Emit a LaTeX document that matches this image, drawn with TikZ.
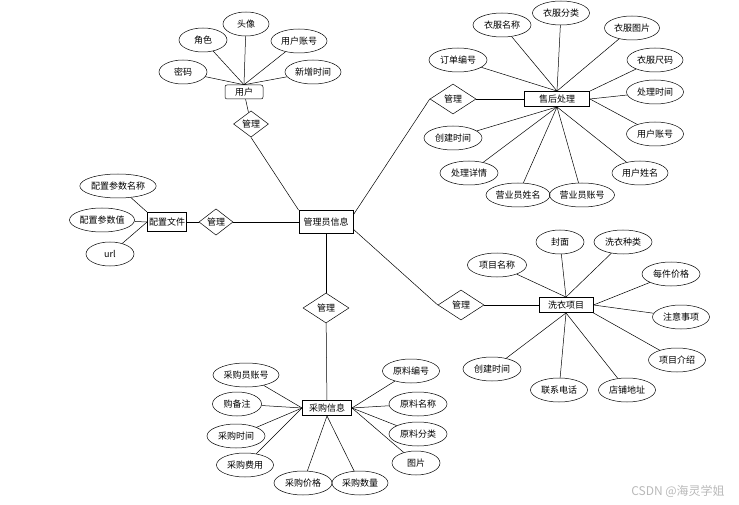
\documentclass[tikz,border=0pt]{standalone}
\usepackage{fontspec}
\newfontfamily\cjk{Noto Sans CJK SC}
\usetikzlibrary{shapes.geometric}

\begin{document}
\begin{tikzpicture}[
    x=1pt, y=-1pt,
    font=\cjk\fontsize{9}{10}\selectfont,
    attr/.style={draw, ellipse, line width=0.5pt, inner sep=0pt, minimum height=24pt},
    entity/.style={draw, line width=0.9pt, inner sep=0pt, minimum height=15pt},
    rel/.style={draw, diamond, line width=0.5pt, inner sep=0pt, minimum width=46pt, minimum height=30pt},
    link/.style={black, line width=0.5pt},
]
    \useasboundingbox (0,0) rectangle (739,505);

    % entities
    \node[entity, minimum width=54pt, minimum height=23pt] (admin) at (326,222) {管理员信息};
    \node[entity, rounded corners=2pt, line width=0.5pt, minimum width=38pt, minimum height=14pt] (user) at (244,92) {用户};
    \node[entity, minimum width=39pt, minimum height=19pt] (cfg) at (167,222) {配置文件};
    \node[entity, minimum width=65pt] (after) at (557,99) {售后处理};
    \node[entity, minimum width=54pt] (wash) at (566,305) {洗衣项目};
    \node[entity, minimum width=49pt] (buy) at (327,408) {采购信息};

    % relations
    \node[rel, minimum width=35pt, minimum height=22pt] (r1) at (251,124) {管理};
    \node[rel, minimum width=34pt, minimum height=21pt] (r2) at (216,222) {管理};
    \node[rel] (r3) at (453,99) {管理};
    \node[rel] (r4) at (461,305) {管理};
    \node[rel] (r5) at (326,308) {管理};

    \draw[link] (user) -- (r1);
    \draw[link] (r1.south) -- (admin.north west);
    \draw[link] (cfg) -- (r2);
    \draw[link] (r2) -- (admin);
    \draw[link] (admin.15) -- (r3.west);
    \draw[link] (r3) -- (after);
    \draw[link] (admin.-15) -- (r4.west);
    \draw[link] (r4) -- (wash);
    \draw[link] (admin) -- (r5);
    \draw[link] (r5) -- (buy);

    % attributes: name/text/x/y/width/anchor
    \foreach \nm/\lbl/\x/\y/\w/\anc in {%
        u1/头像/246/24/46/north,%
        u2/角色/203/40/48/north,%
        u3/用户账号/299/41/56/north,%
        u4/密码/183/72/48/north,%
        u5/新增时间/313/72/56/north%
    }{
        \node[attr, minimum width=\w pt] (\nm) at (\x,\y) {\lbl};
        \draw[link] (\nm) -- (user.\anc);
    }
    \foreach \nm/\lbl/\x/\y/\w/\anc in {%
        c1/配置参数名称/118/186/74/north west,%
        c2/配置参数值/102/220/65/west,%
        c3/url/110/254/48/west%
    }{
        \node[attr, minimum width=\w pt] (\nm) at (\x,\y) {\lbl};
        \draw[link] (\nm) -- (cfg.\anc);
    }
    \foreach \nm/\lbl/\x/\y/\w/\anc in {%
        a1/订单编号/458/60/58/north,%
        a2/衣服名称/502/25/58/north,%
        a3/衣服分类/561/13/57/north,%
        a4/衣服图片/632/28/55/north,%
        a5/衣服尺码/655/60/56/north east,%
        a6/处理时间/655/92/57/east,%
        a7/用户账号/655/134/57/east,%
        a8/用户姓名/640/173/56/south,%
        a9/营业员账号/582/195/65/south,%
        a10/营业员姓名/518/195/64/south,%
        a11/处理详情/469/173/58/south,%
        a12/创建时间/453/138/58/south%
    }{
        \node[attr, minimum width=\w pt] (\nm) at (\x,\y) {\lbl};
        \draw[link] (\nm) -- (after.\anc);
    }
    \foreach \nm/\lbl/\x/\y/\w/\anc in {%
        w1/项目名称/497/265/59/north,%
        w2/封面/560/242/48/north,%
        w3/洗衣种类/623/242/58/north,%
        w4/每件价格/671/274/58/east,%
        w5/注意事项/681/317/57/east,%
        w6/项目介绍/677/360/57/south east,%
        w7/店铺地址/627/390/57/south,%
        w8/联系电话/559/390/57/south,%
        w9/创建时间/492/369/58/south%
    }{
        \node[attr, minimum width=\w pt] (\nm) at (\x,\y) {\lbl};
        \draw[link] (\nm) -- (wash.\anc);
    }
    \foreach \nm/\lbl/\x/\y/\w/\anc in {%
        b1/采购员账号/246/375/66/west,%
        b2/购备注/237/404/49/west,%
        b3/采购时间/236/436/58/west,%
        b4/采购费用/245/465/57/west,%
        b5/采购价格/303/483/58/south,%
        b6/采购数量/360/483/56/south,%
        b7/图片/416/463/48/east,%
        b8/原料分类/418/434/58/east,%
        b9/原料名称/418/404/58/east,%
        b10/原料编号/411/371/57/east%
    }{
        \node[attr, minimum width=\w pt] (\nm) at (\x,\y) {\lbl};
        \draw[link] (\nm) -- (buy.\anc);
    }

    \node[text=gray!55, font=\cjk\fontsize{12}{14}\selectfont] (mark) at (678,491) {CSDN @海灵学姐};
\end{tikzpicture}
\end{document}
